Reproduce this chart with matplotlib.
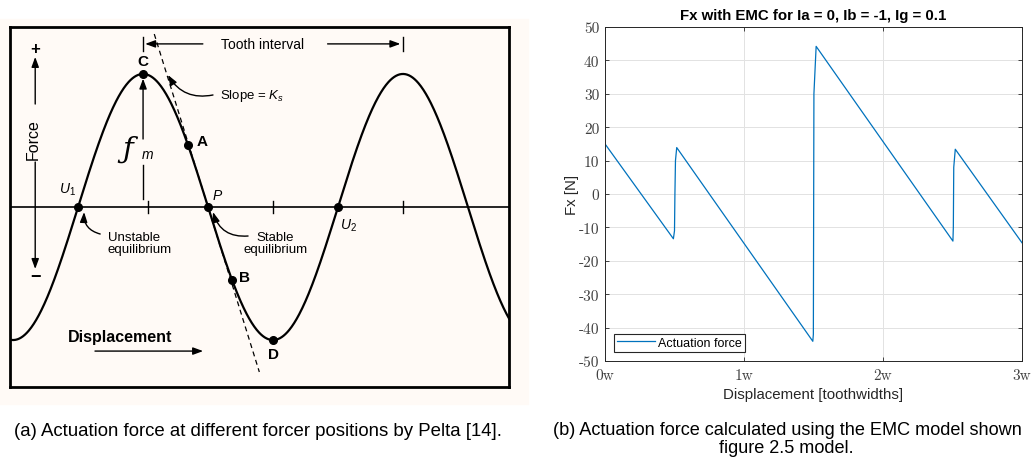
import numpy as np
import matplotlib.pyplot as plt
from matplotlib.patches import Rectangle

W, H = 1032, 464

# (a) Pelta's force/displacement sketch: one tooth interval = 1, peak force f_m = 1
tooth_interval = 1.0
f_m = 1.0
x_lo, x_hi = -0.512, 1.408
point_names = ['U1', 'C', 'A', 'P', 'B', 'D', 'U2']
point_x = [-0.25, 0.0, 0.173, 0.25, 0.342, 0.5, 0.75]
axis_ticks = [0.02, 0.5, 1.0]

# (b) EMC model, force vs displacement
disp = [0.0, 0.492, 0.500, 0.503, 0.507, 0.516,
        1.495, 1.499, 1.503, 1.519,
        2.503, 2.506, 2.509, 2.520, 3.0]
force = [15.0, -13.4, -11.0, 0.0, 10.0, 13.9,
         -44.1, -42.0, 30.0, 44.2,
         -14.1, -10.0, 8.0, 13.4, -14.6]
y_ticks = list(range(-50, 51, 10))
x_ticks = [0, 1, 2, 3]
x_ticklabels = ['0w', '1w', '2w', '3w']

plt.rcParams['font.family'] = ['Liberation Sans', 'DejaVu Sans']
plt.rcParams['mathtext.fontset'] = 'custom'
plt.rcParams['mathtext.rm'] = 'Liberation Sans'
plt.rcParams['mathtext.it'] = 'Liberation Sans:italic'
plt.rcParams['axes.unicode_minus'] = False


def fig_box(x0, y0, x1, y1):
    return [x0 / W, 1 - y1 / H, (x1 - x0) / W, (y1 - y0) / H]


def fig_xy(x, y):
    return x / W, 1 - y / H


fig = plt.figure(figsize=(W / 100, H / 100), dpi=100)
cream = '#fffaf6'
fig.patches.append(Rectangle((0, 1 - 405 / H), 528 / W, 385 / H,
                             transform=fig.transFigure, color=cream, zorder=-10))

# ---------------- left sketch ----------------
ax = fig.add_axes(fig_box(10, 28, 509, 388))
ax.set_facecolor(cream)
ax.set_xlim(x_lo, x_hi)
ax.set_ylim(-1.353, 1.353)
ax.set_xticks([])
ax.set_yticks([])
for s in ax.spines.values():
    s.set_linewidth(2)

xs = np.linspace(x_lo, x_hi, 800)
ax.plot(xs, f_m * np.cos(2 * np.pi * xs / tooth_interval), color='k', lw=1.6)
ax.axhline(0, color='k', lw=1.2)
for t in axis_ticks:
    ax.plot([t, t], [-0.045, 0.045], color='k', lw=1)

px = np.array(point_x)
py = f_m * np.cos(2 * np.pi * px / tooth_interval)
ax.plot(px, py, 'o', color='k', ms=5.5, zorder=5)

# tangent at P (stiffness K_s)
slope = -2 * np.pi * f_m / tooth_interval
ty = np.array([1.30, -1.24])
ax.plot(0.25 + ty / slope, ty, color='k', lw=0.9, ls=(0, (4, 3)))

bold = dict(fontsize=11, fontweight='bold', ha='center', va='center')
ax.text(0.0, 1.098, 'C', **bold)
ax.text(0.227, 0.496, 'A', **bold)
ax.text(0.392, -0.526, 'B', **bold)
ax.text(0.502, -1.105, 'D', **bold)
ax.text(0.285, 0.09, 'P', fontsize=10, style='italic', ha='center', va='center')
ax.text(-0.292, 0.135, r'$U_1$', fontsize=10, ha='center', va='center')
ax.text(0.792, -0.135, r'$U_2$', fontsize=10, ha='center', va='center')

head = dict(arrowstyle='-|>,head_length=0.6,head_width=0.22', color='k', lw=1,
            shrinkA=0, shrinkB=0)

# tooth interval dimension
yt = 1.226
ax.plot([0, 0], [yt - 0.05, yt + 0.05], color='k', lw=1)
ax.plot([1.0, 1.0], [yt - 0.05, yt + 0.05], color='k', lw=1)
ax.annotate('', xy=(0.008, yt), xytext=(0.23, yt), arrowprops=head)
ax.annotate('', xy=(0.99, yt), xytext=(0.71, yt), arrowprops=head)
ax.text(0.46, yt, 'Tooth interval', fontsize=10, ha='center', va='center')

# f_m
ax.plot([0, 0], [0.06, 0.316], color='k', lw=1)
ax.annotate('', xy=(0, 0.965), xytext=(0, 0.511), arrowprops=head)
ax.text(-0.058, 0.436, '\u0192', fontsize=21, family='DejaVu Serif',
        style='italic', ha='center', va='center')
ax.text(0.019, 0.40, 'm', fontsize=10, style='italic', ha='center', va='center')

# slope label
ax.text(0.296, 0.842, r'Slope = $K_s$', fontsize=9.5, ha='left', va='center')
ax.annotate('', xy=(0.096, 0.992), xytext=(0.269, 0.842),
            arrowprops=dict(head, connectionstyle='arc3,rad=-0.35'))

# equilibria
ax.text(-0.135, -0.271, 'Unstable\nequilibrium', fontsize=9.5, ha='left',
        va='center', linespacing=1.05)
ax.annotate('', xy=(-0.227, -0.038), xytext=(-0.165, -0.203),
            arrowprops=dict(head, connectionstyle='arc3,rad=-0.4'))
ax.text(0.508, -0.271, 'Stable\nequilibrium', fontsize=9.5, ha='center',
        va='center', linespacing=1.05)
ax.annotate('', xy=(0.269, -0.038), xytext=(0.404, -0.218),
            arrowprops=dict(head, connectionstyle='arc3,rad=-0.4'))

# displacement
ax.text(-0.288, -0.97, 'Displacement', fontsize=11.5, fontweight='bold',
        ha='left', va='center')
ax.annotate('', xy=(0.231, -1.083), xytext=(-0.185, -1.083), arrowprops=head)

# force
xf = -0.415
ax.text(-0.423, 0.511, 'Force', fontsize=11.5, rotation=90, ha='center', va='center')
ax.annotate('', xy=(xf, 1.128), xytext=(xf, 0.774), arrowprops=head)
ax.annotate('', xy=(xf, -0.466), xytext=(xf, 0.338), arrowprops=head)
ax.text(xf, 1.188, '+', fontsize=12, fontweight='bold', ha='center', va='center')
ax.text(xf, -0.519, '\u2212', fontsize=13, fontweight='bold', ha='center', va='center')

# ---------------- right plot ----------------
dark = '#262626'
ax2 = fig.add_axes(fig_box(605, 28, 1022, 362))
ax2.plot(disp, force, color='#0072BD', lw=0.9, label='Actuation force')
ax2.set_xlim(0, 3)
ax2.set_ylim(-50, 50)
ax2.set_xticks(x_ticks)
ax2.set_xticklabels(x_ticklabels, family='cmr10', fontsize=11, color='#404040')
ax2.set_yticks(y_ticks)
ax2.set_yticklabels([str(v) for v in y_ticks], family='cmr10', fontsize=11,
                    color='#404040')
ax2.tick_params(direction='in', length=3, width=0.6, top=True, right=True,
                colors=dark, labelcolor='#404040')
ax2.tick_params(axis='x', pad=5)
ax2.tick_params(axis='y', pad=4)
ax2.grid(True, color='#e2e2e2', lw=0.7)
ax2.set_axisbelow(True)
for s in ax2.spines.values():
    s.set_color(dark)
    s.set_linewidth(0.7)
leg = ax2.legend(loc='lower left', bbox_to_anchor=(0.0216, 0.027), borderaxespad=0,
                 fontsize=9, handlelength=3.0, handletextpad=0.3, borderpad=0.25,
                 fancybox=False, framealpha=1, edgecolor=dark)
leg.get_frame().set_linewidth(0.8)

fig.text(*fig_xy(813, 16), 'Fx with EMC for Ia = 0, Ib = -1, Ig = 0.1',
         fontsize=10.8, fontweight='bold', ha='center', va='center', color='k')
fig.text(*fig_xy(572, 195), 'Fx [N]', fontsize=10.8, rotation=90,
         ha='center', va='center', color=dark)
fig.text(*fig_xy(813, 395), 'Displacement [toothwidths]', fontsize=10.8,
         ha='center', va='center', color=dark)

# captions
fig.text(*fig_xy(258, 432), '(a) Actuation force at different forcer positions by Pelta [14].',
         fontsize=13.4, ha='center', va='center')
fig.text(*fig_xy(553, 431), '(b) Actuation force calculated using the EMC model shown',
         fontsize=13.1, ha='left', va='center')
fig.text(*fig_xy(786, 449), 'figure 2.5 model.', fontsize=13.1, ha='center', va='center')

fig.savefig('out.png', dpi=100, facecolor='white')
